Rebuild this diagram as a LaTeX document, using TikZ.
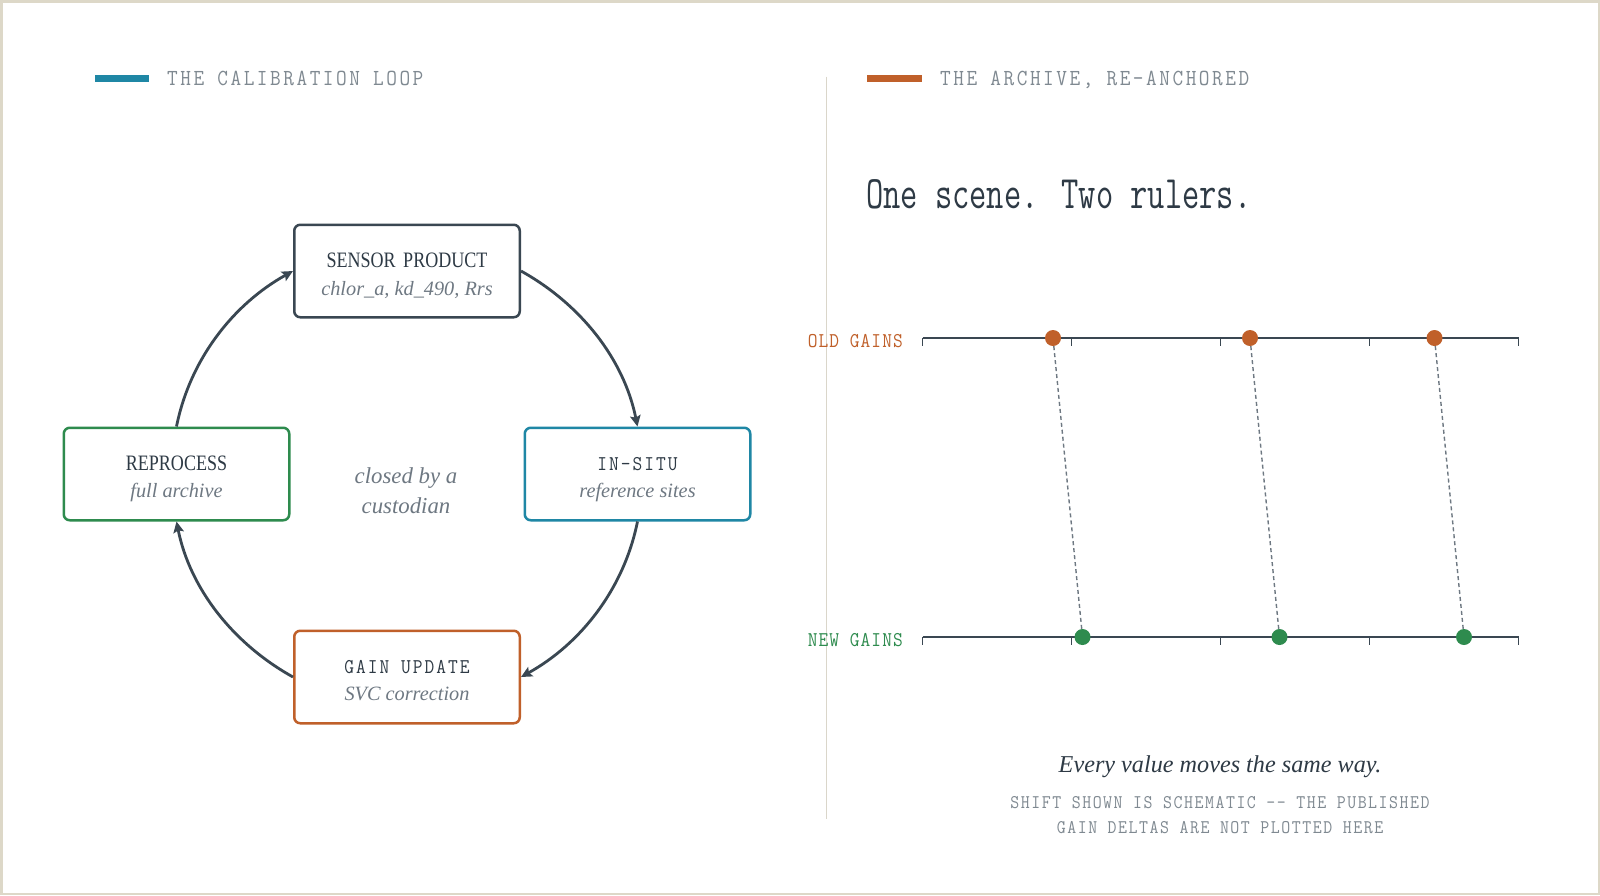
\documentclass[tikz,border=0pt]{standalone}
\usepackage{fontspec}
\setmainfont{Liberation Serif}
\newfontfamily\monoA{Latin Modern Mono}[FakeStretch=0.9]
\newfontfamily\monoB{Latin Modern Mono}[FakeStretch=0.72]
\newfontfamily\serifN{Liberation Serif}[FakeStretch=0.82]
\usetikzlibrary{arrows.meta,calc}
\definecolor{ink}{HTML}{2E3A45}
\definecolor{slate}{HTML}{3A4752}
\definecolor{cteal}{HTML}{1F87A5}
\definecolor{corange}{HTML}{C0602A}
\definecolor{cgreen}{HTML}{2E8B4E}
\definecolor{muted}{HTML}{6E7882}
\definecolor{faint}{HTML}{7F8991}
\definecolor{framec}{HTML}{DDD8C8}
\definecolor{divc}{HTML}{DAD6CA}
\begin{document}
\begin{tikzpicture}[x=1pt,y=-1pt,
  box/.style={draw, line width=2.5pt, rounded corners=6pt, minimum width=225.5pt, minimum height=92.5pt, inner sep=0pt, fill=white},
  ttl/.style={anchor=base, inner sep=0pt, text=ink},
  serttl/.style={ttl, font=\serifN\fontsize{22}{26}\selectfont},
  monottl/.style={ttl, font=\monoA\addfontfeatures{LetterSpace=9.5}\fontsize{21}{25}\selectfont},
  sub/.style={anchor=base, inner sep=0pt, text=muted, font=\itshape\fontsize{20.3}{24}\selectfont},
  conn/.style={draw=slate, line width=2.8pt, -{Stealth[length=11pt,width=10.5pt,inset=2pt]}},
  hdr/.style={anchor=base west, inner sep=0pt, text=faint, font=\monoA\addfontfeatures{LetterSpace=11}\fontsize{23}{28}\selectfont},
  rulerline/.style={draw=slate, line width=2.2pt},
  tick/.style={draw=slate, line width=1.5pt},
  odot/.style={circle, fill=corange, minimum size=16pt, inner sep=0pt},
  ndot/.style={circle, fill=cgreen, minimum size=16pt, inner sep=0pt},
  shiftline/.style={draw=muted, line width=1.4pt, dash pattern=on 4pt off 3pt},
  rlabel/.style={anchor=base east, inner sep=0pt, font=\monoA\addfontfeatures{LetterSpace=5}\fontsize{21}{25}\selectfont},
  foot/.style={anchor=base, inner sep=0pt, text=faint, font=\monoA\addfontfeatures{LetterSpace=8}\fontsize{19.3}{24}\selectfont},
  mid/.style={anchor=base, inner sep=0pt, text=muted, font=\itshape\fontsize{22.8}{26}\selectfont}
]
\useasboundingbox (0,0) rectangle (1600,895);
\fill[white] (0,0) rectangle (1600,895);
\draw[framec, line width=2.5pt] (1.25,1.25) rectangle (1598.75,893.75);

% headers
\fill[cteal] (95,75.3) rectangle (149,82);
\node[hdr] (h1) at (167,85) {THE CALIBRATION LOOP};
\fill[corange] (867,75.3) rectangle (922,82);
\node[hdr] (h2) at (940,85) {THE ARCHIVE, RE-ANCHORED};

% divider
\draw[divc, line width=1.5pt] (826.5,76.5) -- (826.5,819);

% loop boxes
\node[box, draw=slate] (sp) at (407,271) {};
\node[serttl] (spT) at ($(sp.center)+(0,-4)$) {SENSOR\hspace{3pt} PRODUCT};
\node[sub] (spS) at ($(sp.center)+(0,24)$) {chlor\_a, kd\_490, Rrs};

\node[box, draw=cteal] (is) at (637.5,474) {};
\node[monottl] (isT) at ($(is.center)+(0,-4)$) {IN-SITU};
\node[sub] (isS) at ($(is.center)+(0,23)$) {reference sites};

\node[box, draw=corange] (gu) at (407,677) {};
\node[monottl] (guT) at ($(gu.center)+(0,-4)$) {GAIN UPDATE};
\node[sub] (guS) at ($(gu.center)+(0,23)$) {SVC correction};

\node[box, draw=cgreen] (rp) at (176.5,474) {};
\node[serttl] (rpT) at ($(rp.center)+(0,-4)$) {REPROCESS};
\node[sub] (rpS) at ($(rp.center)+(0,23)$) {full archive};

\node[mid] (c1) at (406,483.5) {closed by a};
\node[mid] (c2) at (406,513) {custodian};

% loop arcs
\draw[conn] (sp.east) .. controls +(59.9,33.3) and +(-13.5,-67.1) .. (is.north);
\draw[conn] (is.south) .. controls +(-13.5,67.1) and +(59.9,-33.3) .. (gu.east);
\draw[conn] (gu.west) .. controls +(-59.9,-33.3) and +(13.5,67.1) .. (rp.south);
\draw[conn] (rp.north) .. controls +(13.5,-67.1) and +(-59.9,33.3) .. (sp.west);

% right panel title
\node[anchor=base west, inner sep=0pt, text=ink, font=\monoB\fontsize{46.5}{52}\selectfont] (title) at (866,208) {One scene. Two rulers.};

% rulers
\coordinate (oL) at (922.5,338);
\coordinate (oR) at (1518.5,338);
\coordinate (nL) at (922.5,637);
\coordinate (nR) at (1518.5,637);
\draw[rulerline] (oL) -- (oR);
\draw[rulerline] (nL) -- (nR);
\foreach \x in {922.5,1071.5,1220.5,1369.5,1518.5}{
  \draw[tick] (\x,338) -- ++(0,8);
  \draw[tick] (\x,637) -- ++(0,8);
}
\node[rlabel, text=corange] (oldlab) at (903,347) {OLD GAINS};
\node[rlabel, text=cgreen] (newlab) at (903,646) {NEW GAINS};

\node[odot] (o1) at (1053,338) {};
\node[odot] (o2) at (1250,338) {};
\node[odot] (o3) at (1434.5,338) {};
\node[ndot] (n1) at (1082.5,637) {};
\node[ndot] (n2) at (1279.5,637) {};
\node[ndot] (n3) at (1464,637) {};
\draw[shiftline] (o1) -- (n1);
\draw[shiftline] (o2) -- (n2);
\draw[shiftline] (o3) -- (n3);

% captions
\node[anchor=base, inner sep=0pt, text=ink, font=\itshape\fontsize{24.2}{28}\selectfont] (cap) at (1220,772) {Every value moves the same way.};
\node[foot] (f1) at (1220,808) {SHIFT SHOWN IS SCHEMATIC -- THE PUBLISHED};
\node[foot] (f2) at (1220,833) {GAIN DELTAS ARE NOT PLOTTED HERE};
\end{tikzpicture}
\end{document}
